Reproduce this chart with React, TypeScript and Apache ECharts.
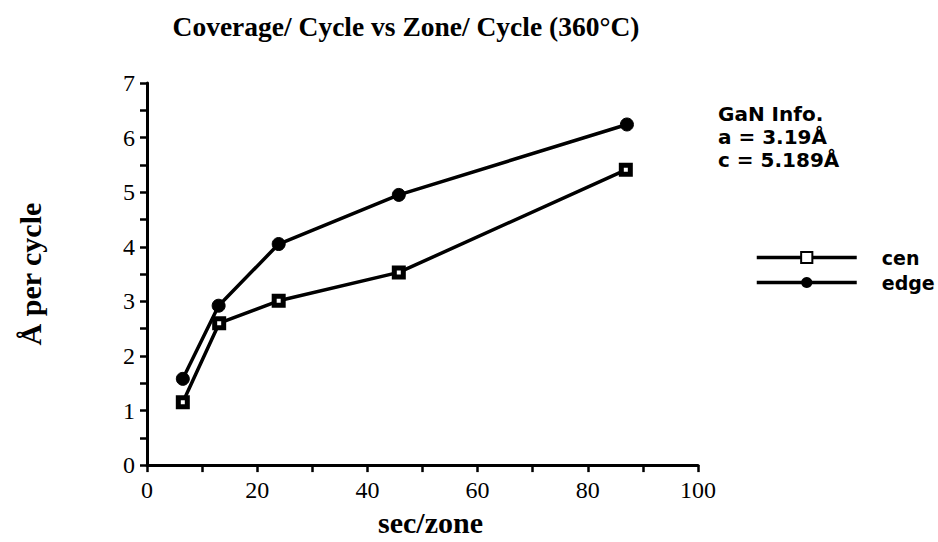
import React, { useEffect, useRef } from "react";
import * as echarts from "echarts";

const xCen: number[] = [6.5, 13.1, 23.9, 45.7, 86.9];
const yCen: number[] = [1.15, 2.6, 3.01, 3.53, 5.41];
const xEdge: number[] = [6.5, 13.0, 23.9, 45.7, 87.1];
const yEdge: number[] = [1.58, 2.92, 4.05, 4.95, 6.24];
const seriesNames: string[] = ["cen", "edge"];
const infoLines: string[] = ["GaN Info.", "a = 3.19Å", "c = 5.189Å"];

const SERIF = "'Liberation Serif', 'Times New Roman', serif";
const SANS = "'DejaVu Sans', Verdana, sans-serif";

export default function App() {
  const ref = useRef<HTMLDivElement>(null);
  useEffect(() => {
    if (!ref.current) return;
    const chart = echarts.init(ref.current, undefined, { renderer: "svg" });
    const pair = (xs: number[], ys: number[]) => xs.map((x, i) => [x, ys[i]]);
    chart.setOption({
      animation: false,
      backgroundColor: "#fff",
      title: {
        text: "Coverage/ Cycle vs Zone/ Cycle (360°C)",
        left: 401,
        top: 7,
        textAlign: "center",
        textStyle: { fontFamily: SERIF, fontWeight: "bold", fontSize: 27.5, color: "#000" },
      },
      grid: { left: 147, right: 240, top: 83, bottom: 71, containLabel: false },
      legend: {
        orient: "vertical",
        left: 750,
        top: 243,
        itemWidth: 100,
        itemHeight: 14,
        itemGap: 6,
        data: seriesNames,
        lineStyle: { width: 3.5, color: "#000" },
        textStyle: { fontFamily: SANS, fontWeight: "bold", fontSize: 19, color: "#000", padding: [0, 0, 0, 20] },
      },
      xAxis: {
        type: "value",
        min: 0,
        max: 100,
        interval: 20,
        name: "sec/zone",
        nameLocation: "middle",
        nameGap: 41,
        nameTextStyle: { fontFamily: SERIF, fontWeight: "bold", fontSize: 30, color: "#000", padding: [0, 0, 0, 16] },
        axisLine: { lineStyle: { color: "#000", width: 3 } },
        axisTick: { length: 7, lineStyle: { color: "#000", width: 2.5 } },
        minorTick: { show: true, splitNumber: 2, length: 7, lineStyle: { color: "#000", width: 2.5 } },
        axisLabel: { fontFamily: SERIF, fontSize: 24, color: "#000", margin: 13 },
        splitLine: { show: false },
      },
      yAxis: {
        type: "value",
        min: 0,
        max: 7,
        interval: 1,
        name: "Å per cycle",
        nameLocation: "middle",
        nameGap: 102,
        nameTextStyle: { fontFamily: SERIF, fontWeight: "bold", fontSize: 30, color: "#000" },
        axisLine: { show: true, lineStyle: { color: "#000", width: 3 } },
        axisTick: { show: true, length: 7, lineStyle: { color: "#000", width: 2.5 } },
        minorTick: { show: true, splitNumber: 2, length: 7, lineStyle: { color: "#000", width: 2.5 } },
        axisLabel: { fontFamily: SERIF, fontSize: 24, color: "#000", margin: 12 },
        splitLine: { show: false },
      },
      series: [
        {
          name: seriesNames[0],
          type: "line",
          data: pair(xCen, yCen),
          symbol: "rect",
          symbolSize: 9,
          lineStyle: { color: "#000", width: 3.5 },
          itemStyle: { color: "#fff", borderColor: "#000", borderWidth: 5 },
          z: 3,
        },
        {
          name: seriesNames[1],
          type: "line",
          data: pair(xEdge, yEdge),
          symbol: "circle",
          symbolSize: 13,
          lineStyle: { color: "#000", width: 3.5 },
          itemStyle: { color: "#000", borderColor: "#000" },
          z: 2,
        },
      ],
      graphic: [
        {
          type: "text",
          left: 718,
          top: 102,
          style: {
            text: infoLines.join("\n"),
            fontFamily: SANS,
            fontWeight: "bold",
            fontSize: 20,
            lineHeight: 23,
            fill: "#000",
          },
        },
      ],
    });
    return () => chart.dispose();
  }, []);
  return <div ref={ref} style={{ position: "fixed", left: 0, top: 0, width: 938, height: 542 }} />;
}
